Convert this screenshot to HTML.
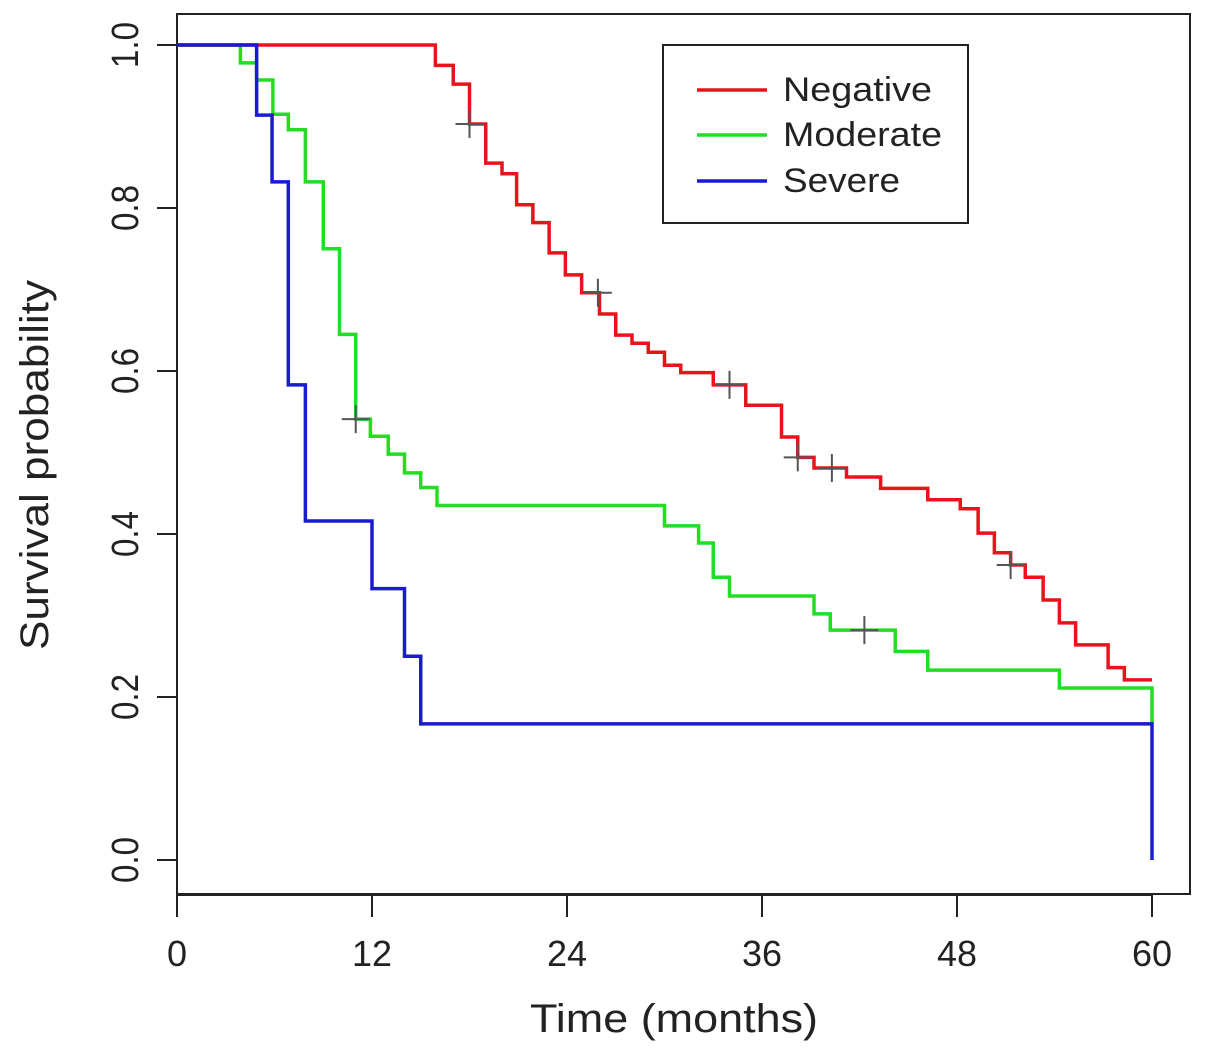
<!DOCTYPE html>
<html><head><meta charset="utf-8"><style>
html,body{margin:0;padding:0;background:#fff;}
svg{display:block;font-family:"Liberation Sans",Arial,sans-serif;}
</style></head><body>
<svg id="chart" width="1205" height="1062" viewBox="0 0 1205 1062">
<rect x="0" y="0" width="1205" height="1062" fill="#fff"/>
<rect x="177" y="14" width="1013" height="880" fill="none" stroke="#222" stroke-width="2"/>
<g id="axes"></g>
<g id="series"></g>
<g>
<rect x="663" y="45" width="305" height="178" fill="#fff" stroke="#222" stroke-width="2"/>
<line x1="697" y1="90" x2="767" y2="90" stroke="#e8141c" stroke-width="3.5"/>
<text x="783" y="101" font-size="34" textLength="149" lengthAdjust="spacingAndGlyphs" fill="#222">Negative</text>
<line x1="697" y1="135" x2="767" y2="135" stroke="#22dd22" stroke-width="3.5"/>
<text x="783" y="146" font-size="34" textLength="159" lengthAdjust="spacingAndGlyphs" fill="#222">Moderate</text>
<line x1="697" y1="181" x2="767" y2="181" stroke="#1a1ad0" stroke-width="3.5"/>
<text x="783" y="192" font-size="34" textLength="117" lengthAdjust="spacingAndGlyphs" fill="#222">Severe</text>
</g>
<text x="674" y="1032" font-size="40" text-anchor="middle" textLength="288" lengthAdjust="spacingAndGlyphs" fill="#222">Time (months)</text>
<text transform="translate(48,465) rotate(-90)" font-size="40" text-anchor="middle" textLength="370" lengthAdjust="spacingAndGlyphs" fill="#222">Survival probability</text>
</svg>
<script>
const xTicks=[0,12,24,36,48,60];
const yTicks=[0,0.2,0.4,0.6,0.8,1.0];
const yTickLabels=["0.0","0.2","0.4","0.6","0.8","1.0"];
const negTimes=[15.9,17.0,18.0,19.0,20.0,20.9,21.9,22.9,23.9,24.9,26.0,27.0,28.0,29.0,30.0,31.0,33.0,35.0,37.2,38.2,39.2,41.2,43.3,46.2,48.2,49.3,50.3,51.3,52.2,53.3,54.3,55.3,57.3,58.3];
const negSurv=[0.975,0.952,0.903,0.855,0.842,0.804,0.782,0.745,0.718,0.696,0.670,0.644,0.634,0.623,0.607,0.598,0.583,0.558,0.519,0.494,0.481,0.470,0.456,0.442,0.431,0.401,0.377,0.362,0.347,0.319,0.291,0.264,0.236,0.221];
const negCensor=[18.0,25.9,34.0,38.2,40.3,51.3];
const modTimes=[3.9,4.9,5.9,6.85,7.9,9.0,10.0,11.0,11.9,13.0,14.0,15.0,16.0,30.0,32.1,33.0,34.0,39.2,40.2,44.2,46.2,54.3,60.0];
const modSurv=[0.978,0.957,0.915,0.896,0.832,0.750,0.645,0.541,0.520,0.498,0.475,0.457,0.435,0.410,0.389,0.347,0.324,0.302,0.282,0.256,0.233,0.211,0.167];
const modCensor=[11.0,42.3];
const sevTimes=[4.9,5.85,6.85,7.9,12.0,14.0,15.0,60.0];
const sevSurv=[0.914,0.832,0.583,0.416,0.333,0.250,0.167,0.0];
const sevCensor=[];
const xMax=60;

const NS="http://www.w3.org/2000/svg";
const X0=177,X1=1152,Y0=860,Y1=45;
function sx(t){return X0+(t/60)*(X1-X0);}
function sy(v){return Y0-v*(Y0-Y1);}
const axes=document.getElementById('axes');
function mk(tag,attrs,parent){const e=document.createElementNS(NS,tag);for(const k in attrs)e.setAttribute(k,attrs[k]);parent.appendChild(e);return e;}

const xl=mk('line',{x1:sx(0),y1:895,x2:sx(60),y2:895,stroke:'#222','stroke-width':2},axes);


xTicks.forEach(t=>{
  const l=mk('line',{x1:sx(t),y1:895,x2:sx(t),y2:917,stroke:'#222','stroke-width':2},axes);
  
  
  const tx=mk('text',{x:sx(t),y:966,'font-size':36,'text-anchor':'middle',fill:'#222'},axes);
  
  
  tx.textContent=String(t);
});
const yl=mk('line',{x1:177,y1:sy(0),x2:177,y2:sy(1),stroke:'#222','stroke-width':2},axes);


yTicks.forEach((v,i)=>{
  const l=mk('line',{x1:157,y1:sy(v),x2:177,y2:sy(v),stroke:'#222','stroke-width':2},axes);
  
  
  const tx=mk('text',{transform:`translate(138,${sy(v)}) rotate(-90)`,'font-size':38,'text-anchor':'middle',textLength:46,lengthAdjust:'spacingAndGlyphs',fill:'#222'},axes);
  
  
  tx.textContent=yTickLabels[i];
});

const series=document.getElementById('series');
function survAt(times,surv,t){let s=1;for(let i=0;i<times.length;i++){if(times[i]<=t)s=surv[i];}return s;}
function drawSeries(times,surv,censor,color,name){
  let d=`M${sx(0)},${sy(1)}`;
  for(let i=0;i<times.length;i++){d+=` H${sx(times[i])} V${sy(surv[i])}`;}
  if(times[times.length-1]<xMax)d+=` H${sx(xMax)}`;
  const p=mk('path',{d:d,fill:'none',stroke:color,'stroke-width':3.5},series);
  
  
  censor.forEach(t=>{
    const v=survAt(times,surv,t);
    const c=mk('path',{d:`M${sx(t)-14},${sy(v)} H${sx(t)+14} M${sx(t)},${sy(v)-14} V${sy(v)+14}`,stroke:'#555','stroke-width':2,fill:'none'},series);
    
    
  });
}
drawSeries(modTimes,modSurv,modCensor,'#22dd22','moderate');
drawSeries(negTimes,negSurv,negCensor,'#e8141c','negative');
drawSeries(sevTimes,sevSurv,sevCensor,'#1a1ad0','severe');
</script>
</body></html>
